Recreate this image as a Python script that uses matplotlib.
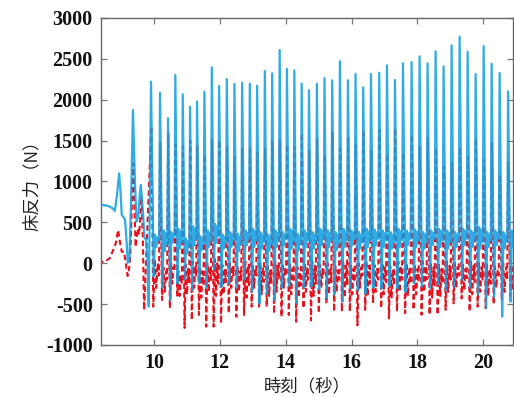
import numpy as np
import matplotlib
matplotlib.use("Agg")
import matplotlib.pyplot as plt

plt.rcParams["axes.unicode_minus"] = False

# ── lead-in (before steady stepping) ────────────────────────
intro_blue_t = [8.30, 8.45, 8.62, 8.75, 8.81, 8.88, 8.94, 8.98, 9.02, 9.08, 9.12,
                9.17, 9.20, 9.25, 9.30, 9.36, 9.42, 9.47, 9.52, 9.57, 9.60,
                9.66, 9.71, 9.76, 9.80, 9.84]
intro_blue_y = [715, 712, 700, 670, 640, 850, 1100, 900, 590, 560, 530,
                250, 5, 20, 700, 1875, 1000, 510, 570, 850, 957,
                650, 310, 290, 40, -530]
intro_red_t = [8.30, 8.50, 8.65, 8.76, 8.84, 8.91, 8.97, 9.02, 9.09, 9.14,
               9.20, 9.27, 9.37, 9.44, 9.50, 9.55, 9.62, 9.66, 9.70]
intro_red_y = [20, 15, 60, 160, 250, 407, 250, 140, 140, 0,
               -156, 0, 1220, 200, 420, 350, 815, 300, -572]

# ── steady stepping: one entry per step ─────────────────────
peak_t = [9.909, 10.182, 10.426, 10.647, 10.872, 11.094, 11.307, 11.529, 11.754, 11.976,
          12.210, 12.441, 12.675, 12.909, 13.131, 13.365, 13.587, 13.815, 14.036, 14.261,
          14.483, 14.705, 14.945, 15.176, 15.410, 15.644, 15.888, 16.119, 16.353, 16.587,
          16.839, 17.073, 17.316, 17.559, 17.821, 18.064, 18.307, 18.550, 18.793, 19.036,
          19.280, 19.523, 19.766, 20.009, 20.252, 20.495, 20.751]
blue_peak = [2221, 2087, 1773, 2303, 2066, 1915, 1977, 2099, 2397, 2168,
             2254, 2193, 2209, 2197, 2172, 2352, 2323, 2609, 2376, 2360,
             2197, 2116, 2197, 2266, 2238, 2470, 2238, 2315, 2152, 2315,
             2331, 2421, 2242, 2446, 2462, 2531, 2446, 2592, 2409, 2666,
             2772, 2588, 2315, 2657, 2441, 2327, 2103]
blue_dip = [-160, -300, -450, -250, -200, -330, -240, -300, -80, -290,
            -250, -300, -200, -350, -490, -380, -450, -300, -280, -490,
            -300, -286, -320, -430, -380, -470, -310, -330, -370, -300,
            -310, -280, -310, -350, -245, -286, -300, -265, -330, -286,
            -205, -300, -380, -550, -420, -654, -470]
blue_hump = [350, 400, 380, 420, 300, 450, 330, 400, 480, 350,
             380, 360, 400, 420, 380, 350, 400, 380, 420, 360,
             400, 380, 420, 400, 380, 420, 400, 380, 420, 410,
             400, 380, 420, 400, 410, 380, 400, 420, 400, 380,
             420, 400, 440, 380, 400, 380, 400]
blue_sag = [200, 150, 250, 180, 120, 220, 160, 200, 250, 180,
            200, 150, 220, 200, 180, 150, 200, 220, 180, 160,
            200, 180, 220, 200, 160, 200, 220, 180, 200, 220,
            200, 180, 200, 220, 200, 180, 220, 200, 180, 200,
            220, 200, 180, 200, 220, 180, 200]
red_peak = [1670, 1470, 1590, 1450, 1430, 1500, 1450, 1320, 1510, 1500,
            1430, 1300, 1400, 1420, 1350, 1400, 1480, 1500, 1450, 1420,
            1590, 1370, 1510, 1325, 1590, 1400, 1550, 1450, 1630, 1370,
            1630, 1330, 1650, 1350, 1570, 1420, 1530, 1410, 1180, 1230,
            1420, 1300, 1530, 1260, 1470, 1080, 1230]
red_dip = [-531, -450, -547, -409, -792, -694, -633, -776, -776, -735,
           -613, -654, -633, -531, -531, -531, -613, -654, -633, -715,
           -550, -700, -610, -490, -590, -590, -590, -760, -570, -490,
           -550, -675, -590, -610, -570, -630, -630, -630, -570, -490,
           -430, -590, -530, -550, -500, -450, -400]
red_dip2 = [-300, -350, -250, -400, -380, -300, -420, -350, -400, -380,
            -300, -350, -420, -300, -380, -400, -350, -300, -380, -420,
            -350, -400, -300, -380, -350, -420, -380, -300, -400, -350,
            -380, -420, -350, -400, -380, -350, -420, -400, -350, -300,
            -330, -380, -350, -400, -300, -350, -320]
red_mid = [50, -50, 0, -100, -20, 20, -50, 0, 50, -20,
           0, -50, 20, -20, 0, -40, 20, 0, -20, -50,
           0, 20, -20, 0, -40, 20, -20, 0, 20, -20,
           0, -40, 20, 0, -20, 20, 0, -20, 20, 0,
           -20, 20, 0, -20, -40, 0, -20]

BLUE = "#14a0e2"
RED = "#e8101c"

# build the step polylines
bt, by = list(intro_blue_t), list(intro_blue_y)
rt, ry = list(intro_red_t), list(intro_red_y)
for i, t0 in enumerate(peak_t):
    T = peak_t[i + 1] - t0 if i + 1 < len(peak_t) else peak_t[i] - peak_t[i - 1]
    bt += [t0, t0 + 0.30 * T, t0 + 0.45 * T, t0 + 0.60 * T, t0 + 0.75 * T, t0 + 0.90 * T]
    by += [blue_peak[i], blue_dip[i], blue_hump[i], blue_sag[i], blue_hump[i] - 30, blue_sag[i] + 80]
    rt += [t0 + 0.03 * T, t0 + 0.25 * T, t0 + 0.42 * T, t0 + 0.58 * T, t0 + 0.75 * T, t0 + 0.88 * T]
    ry += [red_peak[i], red_dip[i], red_mid[i], red_dip2[i], red_mid[i] - 50, red_dip2[i] + 150]

fig = plt.figure(figsize=(5.14, 3.97), dpi=100)
ax = fig.add_axes([0.1965, 0.131, 0.8015, 0.8237])

ax.plot(rt, ry, color=RED, lw=1.5, ls=(0, (2.6, 1.6)), zorder=2)
ax.plot(bt, by, color=BLUE, lw=1.6, alpha=0.88, zorder=3)

ax.set_xlim(8.39, 20.9)
ax.set_ylim(-1000, 3000)
ax.set_xticks(range(10, 21, 2))
ax.set_yticks(range(-1000, 3001, 500))

for s in ax.spines.values():
    s.set_color("#666666")
    s.set_linewidth(1.0)
ax.tick_params(direction="in", length=4, width=0.9, color="#777777",
               top=True, right=True, pad=6)
for lab in ax.get_xticklabels() + ax.get_yticklabels():
    lab.set_fontfamily("Liberation Serif")
    lab.set_fontweight("bold")
    lab.set_fontsize(14.5)
    lab.set_color("#111111")

cjk = ["Noto Sans CJK JP", "DejaVu Sans"]
ax.set_xlabel("時刻（秒）", family=cjk, fontsize=12.5, color="#222222", labelpad=3)
ax.set_ylabel("床反力（N）", family=cjk, fontsize=12.5, color="#222222", labelpad=4)

fig.savefig("out.png", dpi=100, facecolor="white")
